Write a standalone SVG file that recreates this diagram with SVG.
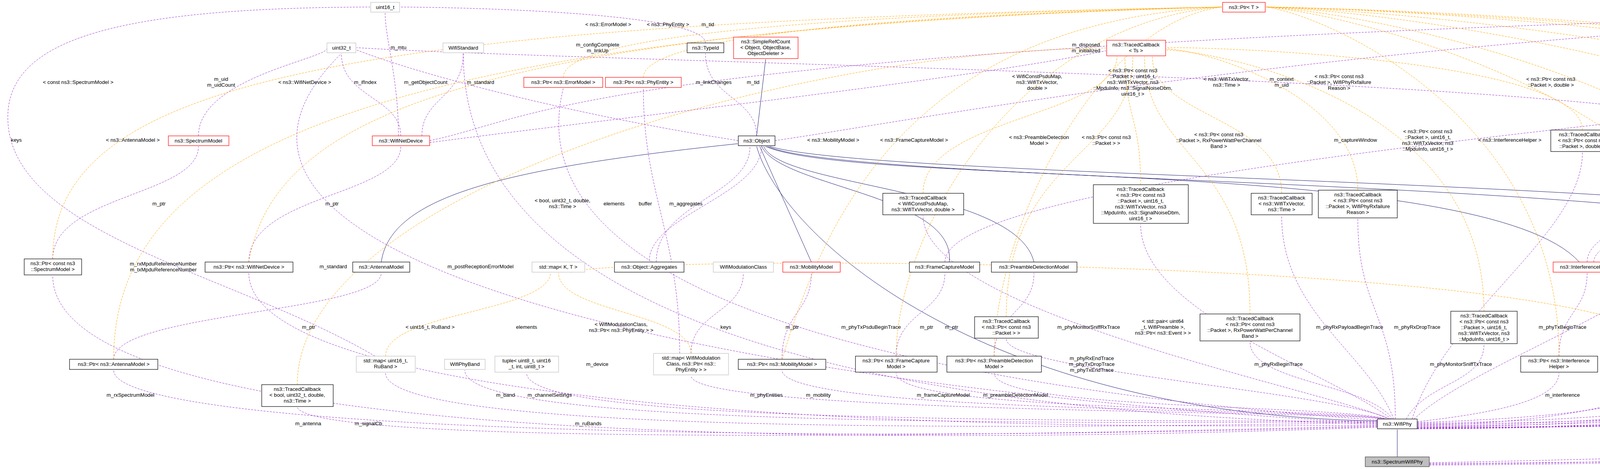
<svg xmlns="http://www.w3.org/2000/svg" width="7448" height="1201" viewBox="0 0 7448 1201">
<style>
rect{fill:#fff;stroke:#000;stroke-width:1.2}
.r rect{stroke:#f00}
.g rect{stroke:#bfbfbf}
.s rect{fill:#bfbfbf;stroke:#404040}
text{font-family:"Liberation Sans",Arial,sans-serif;font-size:13.3px;fill:#000;text-anchor:middle}
path{fill:none}
.p{stroke:#9a32cd;stroke-dasharray:5,3;marker-end:url(#ap)}
.o{stroke:#ffa500;stroke-dasharray:5,3;marker-end:url(#ao)}
.b{stroke:#191970;marker-end:url(#ab)}
</style>
<defs>
<marker id="ap" viewBox="0 0 10 10" refX="10" refY="5" markerWidth="10" markerHeight="10" markerUnits="userSpaceOnUse" orient="auto"><path d="M0,1L10,5L0,9z" fill="#9a32cd"/></marker>
<marker id="ao" viewBox="0 0 10 10" refX="10" refY="5" markerWidth="10" markerHeight="10" markerUnits="userSpaceOnUse" orient="auto"><path d="M0,1L10,5L0,9z" fill="#ffa500"/></marker>
<marker id="ab" viewBox="0 0 10 10" refX="10" refY="5" markerWidth="10" markerHeight="10" markerUnits="userSpaceOnUse" orient="auto"><path d="M0,1L10,5L0,9z" fill="#191970"/></marker>
</defs>
<rect x="0" y="0" width="7448" height="1201" style="stroke:none"/>
<g id="edges">
<path class="b" d="M3577 1170L3577 1100"/>
<path class="b" d="M3526 1078C2500 1060,2000 600,1937 375"/>
<path class="b" d="M1937 348L1960 152"/>
<path class="b" d="M976 671C1000 500,1300 430,1888 368"/>
<path class="b" d="M2077 671L1945 375"/>
<path class="b" d="M2430 671C2450 500,2000 480,1950 375"/>
<path class="b" d="M2647 671C2600 480,2000 480,1955 375"/>
<path class="b" d="M4043 671C3800 400,2200 480,1960 375"/>
<path class="b" d="M4860 671C4700 450,2200 480,1965 375"/>
<path class="b" d="M5300 671C5000 450,2300 470,1970 375"/>
<path class="b" d="M6111 110L6170 33"/>
<path class="b" d="M5913 348C5913 150,6050 100,6160 33"/>
<path class="p" d="M3526 1094C2000 1150,135 1120,135 706"/>
<path class="p" d="M3526 1092C2000 1140,291 1100,291 948"/>
<path class="p" d="M3526 1090C2500 1120,800 1140,761 1043"/>
<path class="p" d="M3526 1088C2000 1110,637 1000,637 699"/>
<path class="p" d="M3526 1086C2500 1060,1186 900,1186 137"/>
<path class="p" d="M3526 1084C2000 1000,300 700,874 137"/>
<path class="p" d="M3526 1082C2000 1110,987 1080,987 955"/>
<path class="p" d="M3526 1080C2000 1090,1190 1060,1190 948"/>
<path class="p" d="M3526 1078C2200 1080,1348 1060,1348 955"/>
<path class="p" d="M3526 1076C2500 1000,1300 800,1442 226"/>
<path class="p" d="M3540 1073C3400 1050,1769 1060,1769 962"/>
<path class="p" d="M3545 1073C3400 1045,2002 1060,2002 948"/>
<path class="p" d="M3550 1073C3400 1040,2294 1060,2294 955"/>
<path class="p" d="M3553 1073C3400 1035,2545 1050,2545 955"/>
<path class="p" d="M3556 1073C3400 1000,2363 800,2363 552"/>
<path class="p" d="M3559 1073C3400 1000,2576 950,2576 868"/>
<path class="p" d="M3562 1073C3400 950,2920 800,2920 574"/>
<path class="p" d="M3565 1073C3500 980,3200 980,3200 875"/>
<path class="p" d="M3568 1073C3500 900,3281 800,3281 552"/>
<path class="p" d="M3572 1073C3572 800,3476 800,3476 560"/>
<path class="p" d="M3600 1073C3650 980,3799 980,3799 882"/>
<path class="p" d="M3628 1080C3800 1060,3991 1030,3991 955"/>
<path class="p" d="M3628 1082C4000 1070,4269 1040,4269 962"/>
<path class="p" d="M3628 1084C4200 1075,4486 1040,4486 955"/>
<path class="p" d="M3628 1086C4400 1080,4750 1040,4750 955"/>
<path class="p" d="M3628 1088C4600 1080,4700 700,4597 137"/>
<path class="p" d="M3615 1073C3700 800,4051 600,4051 390"/>
<path class="p" d="M3620 1073C3800 900,4520 700,4520 375"/>
<path class="p" d="M3628 1090C4800 1080,5075 900,5075 699"/>
<path class="p" d="M3628 1092C5200 1080,5670 900,5670 375"/>
<path class="p" d="M3628 1094C5600 1080,5900 500,6270 137"/>
<path class="p" d="M3628 1095C5300 1085,5571 1000,5571 706"/>
<path class="p" d="M3628 1096C5800 1085,6091 1000,6091 699"/>
<path class="p" d="M3628 1097C6300 1090,6300 300,5520 137"/>
<path class="p" d="M3628 1098C6400 1090,6420 500,5930 375"/>
<path class="p" d="M3628 1098C6700 1090,6700 200,5489 25"/>
<path class="p" d="M3659 1185C5000 1160,6000 1090,6423 1088"/>
<path class="p" d="M3659 1187C6000 1170,6824 1100,6824 699"/>
<path class="p" d="M3659 1189C6500 1170,7050 800,6295 137"/>
<path class="p" d="M3659 1191C7000 1180,7360 600,5489 20"/>
<path class="p" d="M6527 1066C6527 1000,6674 1000,6674 948"/>
<path class="p" d="M6674 920C6674 800,6800 800,6800 699"/>
<path class="p" d="M6824 671C6824 500,6876 500,6876 375"/>
<path class="p" d="M6876 348C6876 250,6300 250,6300 137"/>
<path class="p" d="M6091 671C6091 400,6684 400,6684 234"/>
<path class="p" d="M6315 348C6315 250,6255 250,6255 137"/>
<path class="p" d="M5571 663C5571 500,6300 500,6300 375"/>
<path class="p" d="M5284 671C5284 500,5900 500,5900 375"/>
<path class="p" d="M5300 671C5300 400,6265 400,6265 137"/>
<path class="p" d="M5270 671C5270 400,5506 400,5506 137"/>
<path class="p" d="M5260 671C5260 500,5660 500,5660 375"/>
<path class="p" d="M5240 671C5240 500,4545 500,4545 375"/>
<path class="p" d="M4486 912C4486 800,5284 800,5284 699"/>
<path class="p" d="M4877 671C4877 400,5480 400,5480 137"/>
<path class="p" d="M4890 671C4890 300,5455 300,5455 33"/>
<path class="p" d="M4860 671C4860 500,4110 500,4110 390"/>
<path class="p" d="M4750 912C4750 800,4877 800,4877 699"/>
<path class="p" d="M4063 671C4063 400,6250 400,6250 137"/>
<path class="p" d="M4080 671C4080 500,5650 500,5650 375"/>
<path class="p" d="M3991 912C3991 800,4063 800,4063 699"/>
<path class="p" d="M4269 905C4269 800,4338 800,4338 699"/>
<path class="p" d="M4300 905C4300 800,5040 800,5040 699"/>
<path class="p" d="M5075 671C5075 500,4984 500,4984 375"/>
<path class="p" d="M4984 348C4984 200,5300 130,5461 122"/>
<path class="p" d="M4520 348C4520 250,4437 250,4437 137"/>
<path class="p" d="M4540 348C4540 250,4597 250,4597 137"/>
<path class="p" d="M4500 348C4400 200,1500 160,913 122"/>
<path class="p" d="M5506 110C5506 70,5647 70,5647 33"/>
<path class="p" d="M5490 110C5490 70,5462 70,5462 33"/>
<path class="p" d="M5549 122C6000 100,6300 30,6540 18"/>
<path class="p" d="M1937 348C1937 250,1806 250,1806 137"/>
<path class="p" d="M1806 110C1806 40,1300 20,1025 18"/>
<path class="p" d="M1950 373C1950 500,1662 550,1662 669"/>
<path class="p" d="M1680 671C1680 520,1920 500,1920 375"/>
<path class="p" d="M1984 360C2400 300,3500 80,5435 18"/>
<path class="p" d="M1890 360C1500 300,1100 200,913 128"/>
<path class="p" d="M1769 905C1769 800,1903 800,1903 699"/>
<path class="p" d="M1740 905C1740 600,1647 500,1647 226"/>
<path class="p" d="M2002 920C2002 800,2077 800,2077 699"/>
<path class="p" d="M2294 912C2294 800,2419 800,2419 699"/>
<path class="p" d="M2545 912C2545 800,2647 800,2647 699"/>
<path class="p" d="M2419 671C2419 400,5300 250,5461 128"/>
<path class="p" d="M291 920C291 800,976 800,976 699"/>
<path class="p" d="M637 671C637 500,1026 500,1026 375"/>
<path class="p" d="M135 663C135 500,508 500,508 375"/>
<path class="p" d="M508 348C508 200,837 150,837 124"/>
<path class="p" d="M1026 348C1026 250,874 250,874 137"/>
<path class="p" d="M1020 348C1020 200,986 100,986 33"/>
<path class="p" d="M1080 348C1080 250,1186 250,1186 137"/>
<path class="p" d="M1100 360C1400 300,1500 100,5435 24"/>
<path class="p" d="M1100 365C1600 300,2500 200,2831 130"/>
<path class="p" d="M960 912C600 700,20 600,20 300C20 100,300 20,947 18"/>
<path class="o" d="M135 663C135 200,900 60,3128 18"/>
<path class="o" d="M291 920C291 400,900 80,3128 18"/>
<path class="o" d="M637 671C700 300,1200 70,3128 18"/>
<path class="o" d="M1442 198C1442 100,2000 40,3128 18"/>
<path class="o" d="M1647 198C1647 100,2200 40,3128 18"/>
<path class="o" d="M2002 920C2100 600,2300 60,3128 18"/>
<path class="o" d="M2294 912C2294 600,2600 60,3128 18"/>
<path class="o" d="M2545 912C2545 600,2800 60,3128 18"/>
<path class="o" d="M4437 110C4300 60,3400 18,3241 18"/>
<path class="o" d="M3991 912C3991 300,3400 40,3241 18"/>
<path class="o" d="M4486 912C4486 300,3500 40,3241 18"/>
<path class="o" d="M4750 912C4750 300,3600 40,3241 18"/>
<path class="o" d="M5075 671C5075 300,3800 40,3241 18"/>
<path class="o" d="M5571 663C5571 300,4000 40,3241 18"/>
<path class="o" d="M6824 671C6900 300,4500 40,3241 18"/>
<path class="o" d="M6527 1066C6527 300,4300 40,3241 18"/>
<path class="o" d="M761 985C761 500,2000 130,2831 123"/>
<path class="o" d="M2363 495C2363 300,2850 300,2860 145"/>
<path class="o" d="M2920 473C2920 300,2880 300,2880 145"/>
<path class="o" d="M2576 811C2576 400,2900 400,2900 145"/>
<path class="o" d="M3200 804C3200 400,2930 400,2930 145"/>
<path class="o" d="M3281 495C3281 300,2950 300,2950 145"/>
<path class="o" d="M3476 487C3476 250,3100 130,2986 125"/>
<path class="o" d="M3799 797C3799 250,3100 130,2986 128"/>
<path class="o" d="M4051 333C4051 150,3100 120,2986 122"/>
<path class="o" d="M987 912C987 800,1400 800,1410 699"/>
<path class="o" d="M1769 905C1769 800,1430 800,1430 699"/>
<path class="o" d="M4269 905C4269 650,1500 650,1460 699"/>
<path class="o" d="M5913 348C5913 250,6050 200,6060 137"/>
<path class="o" d="M6684 191C6684 100,6596 80,6596 33"/>
</g>
<g id="labels">
<text x="334" y="1016">m_rxSpectrumModel</text>
<text x="789" y="1089">m_antenna</text>
<text x="943" y="1089">m_signalCb</text>
<text x="1529" y="937">m_device</text>
<text x="853" y="687">m_standard</text>
<text x="418" y="680">m_rxMpduReferenceNumber<tspan x="418" dy="15">m_txMpduReferenceNumber</tspan></text>
<text x="1506" y="1089">m_ruBands</text>
<text x="1294" y="1016">m_band</text>
<text x="1407" y="1016">m_channelSettings</text>
<text x="1230" y="687">m_postReceptionErrorModel</text>
<text x="1962" y="1016">m_phyEntities</text>
<text x="2095" y="1016">m_mobility</text>
<text x="2415" y="1016">m_frameCaptureModel</text>
<text x="2600" y="1016">m_preambleDetectionModel</text>
<text x="2230" y="842">m_phyTxPsduBeginTrace</text>
<text x="2795" y="922">m_phyRxEndTrace<tspan x="2795" dy="15">m_phyTxDropTrace</tspan><tspan x="2795" dy="15">m_phyTxEndTrace</tspan></text>
<text x="2787" y="842">m_phyMonitorSniffRxTrace</text>
<text x="3273" y="937">m_phyRxBeginTrace</text>
<text x="3455" y="842">m_phyRxPayloadBeginTrace</text>
<text x="3628" y="842">m_phyRxDropTrace</text>
<text x="3740" y="937">m_phyMonitorSniffTxTrace</text>
<text x="4000" y="1016">m_interference</text>
<text x="4295" y="1016">m_currentPreambleEvents</text>
<text x="4510" y="1016">m_wifiRadioEnergyModel</text>
<text x="4736" y="1016">m_state</text>
<text x="4650" y="687">m_previouslyRxPpduUid</text>
<text x="4000" y="842">m_phyTxBeginTrace</text>
<text x="4230" y="835">m_endPhyRxEvent<tspan x="4230" dy="15">m_endTxEvent</tspan></text>
<text x="5052" y="937">m_currentEvent</text>
<text x="5450" y="820">m_nTxPower<tspan x="5450" dy="15">m_numberOfAntennas</tspan><tspan x="5450" dy="15">m_rxSpatialStreams</tspan><tspan x="5450" dy="15">m_txSpatialStreams</tspan></text>
<text x="5838" y="601">m_ccaEdThresholdW<tspan x="5838" dy="15">m_ccaSensitivityThreshold</tspan><tspan x="5838" dy="15">W</tspan><tspan x="5838" dy="15">m_noiseFigureDb</tspan><tspan x="5838" dy="15">m_powerDensityLimit</tspan><tspan x="5838" dy="15">m_rxGainDb</tspan><tspan x="5838" dy="15">m_rxSensitivityW</tspan><tspan x="5838" dy="15">m_txGainDb</tspan><tspan x="5838" dy="15">m_txPowerBaseDbm</tspan><tspan x="5838" dy="15">m_txPowerEndDbm</tspan><tspan x="5838" dy="15">m_txPowerMaxMimo</tspan><tspan x="5838" dy="15">...</tspan></text>
<text x="5600" y="937">m_random</text>
<text x="6128" y="937">m_operatingChannel</text>
<text x="6315" y="636">m_ackTxTime<tspan x="6315" dy="15">m_blockAckTxTime</tspan><tspan x="6315" dy="15">m_channelSwitchDelay</tspan><tspan x="6315" dy="15">m_pifs</tspan><tspan x="6315" dy="15">m_sifs</tspan><tspan x="6315" dy="15">m_slot</tspan><tspan x="6315" dy="15">m_timeLastPreamble</tspan><tspan x="6315" dy="15">Detected</tspan></text>
<text x="6401" y="842">m_capabilitiesChangedCallback</text>
<text x="6641" y="504">m_channelAccessRequested<tspan x="6641" dy="15">m_fixedPhyBand</tspan><tspan x="6641" dy="15">m_powerRestricted</tspan><tspan x="6641" dy="15">m_shortPreamble</tspan></text>
<text x="5237" y="1141">m_wifiSpectrumPhyInterface</text>
<text x="6824" y="1016">m_channel</text>
<text x="7050" y="813">m_txMaskInnerBandMinimum<tspan x="7050" dy="15">Rejection</tspan><tspan x="7050" dy="15">m_txMaskOuterBandMaximum</tspan><tspan x="7050" dy="15">Rejection</tspan><tspan x="7050" dy="15">m_txMaskOuterBandMinimumRejection</tspan></text>
<text x="7365" y="687">m_disableWifiReception</text>
<text x="6644" y="1016">m_ptr</text>
<text x="6767" y="842">m_channel</text>
<text x="6880" y="526">m_ptr</text>
<text x="6460" y="215">m_maxLossDb</text>
<text x="6706" y="356">m_channelIt<tspan x="6706" dy="15">m_frequencyChannels</tspan></text>
<text x="6283" y="207">m_max<tspan x="6283" dy="15">m_min</tspan></text>
<text x="6171" y="526">m_ptr</text>
<text x="5874" y="518">m_energyDepletionCallback<tspan x="5874" dy="15">m_energyRechargedCallback</tspan></text>
<text x="6128" y="327">m_ccaBusyCurrentA<tspan x="6128" dy="15">m_idleCurrentA</tspan><tspan x="6128" dy="15">m_rxCurrentA</tspan><tspan x="6128" dy="15">m_sleepCurrentA</tspan><tspan x="6128" dy="15">m_switchingCurrentA</tspan><tspan x="6128" dy="15">m_txCurrentA</tspan></text>
<text x="5359" y="363">m_lastUpdateTime</text>
<text x="5418" y="526">m_nPendingChangeState</text>
<text x="4908" y="526">m_switchToOffEvent</text>
<text x="5178" y="842">m_ptr</text>
<text x="5545" y="284">m_endCcaBusy<tspan x="5545" dy="15">m_endRx</tspan><tspan x="5545" dy="15">m_endSwitching</tspan><tspan x="5545" dy="15">m_endTx</tspan><tspan x="5545" dy="15">m_previousStateChange</tspan><tspan x="5545" dy="15">Time</tspan><tspan x="5545" dy="15">m_startCcaBusy</tspan><tspan x="5545" dy="15">m_startRx</tspan><tspan x="5545" dy="15">m_startSleep</tspan><tspan x="5545" dy="15">m_startSwitching</tspan><tspan x="5545" dy="15">m_startTx</tspan><tspan x="5545" dy="15">...</tspan></text>
<text x="5411" y="207">m_isOff<tspan x="5411" dy="15">m_sleeping</tspan></text>
<text x="4710" y="526">m_rxErrorTrace</text>
<text x="4840" y="842">m_ptr</text>
<text x="5127" y="363">m_noiseFigure</text>
<text x="5010" y="526">m_numRxAntennas</text>
<text x="4124" y="842">m_ptr</text>
<text x="4357" y="842">keys</text>
<text x="5000" y="842">elements</text>
<text x="5167" y="526">m_ptr</text>
<text x="5000" y="207">m_endTime<tspan x="5000" dy="15">m_startTime</tspan></text>
<text x="4480" y="215">m_eventImpl</text>
<text x="4395" y="215">m_rxing</text>
<text x="4575" y="215">m_ts</text>
<text x="3281" y="207">m_context<tspan x="3281" dy="15">m_uid</tspan></text>
<text x="5642" y="67">m_data</text>
<text x="5540" y="67">g_TimeStaticInit</text>
<text x="6240" y="67">g_markingTimes</text>
<text x="1928" y="215">m_tid</text>
<text x="1812" y="67">m_tid</text>
<text x="1756" y="526">m_aggregates</text>
<text x="1652" y="526">buffer</text>
<text x="2780" y="119">m_disposed<tspan x="2780" dy="15">m_initialized</tspan></text>
<text x="1090" y="215">m_getObjectCount</text>
<text x="1858" y="842">keys</text>
<text x="1572" y="526">elements</text>
<text x="1348" y="842">elements</text>
<text x="2028" y="842">m_ptr</text>
<text x="2372" y="842">m_ptr</text>
<text x="2436" y="842">m_ptr</text>
<text x="3470" y="363">m_captureWindow</text>
<text x="790" y="842">m_ptr</text>
<text x="850" y="526">m_ptr</text>
<text x="407" y="526">m_ptr</text>
<text x="566" y="207">m_uid<tspan x="566" dy="15">m_uidCount</tspan></text>
<text x="935" y="215">m_ifIndex</text>
<text x="1020" y="126">m_mtu</text>
<text x="1230" y="215">m_standard</text>
<text x="1530" y="119">m_configComplete<tspan x="1530" dy="15">m_linkUp</tspan></text>
<text x="1827" y="215">m_linkChanges</text>
<text x="42" y="363">keys</text>
<text x="200" y="215">&lt; const ns3::SpectrumModel &gt;</text>
<text x="340" y="363">&lt; ns3::AntennaModel &gt;</text>
<text x="780" y="215">&lt; ns3::WifiNetDevice &gt;</text>
<text x="1557" y="67">&lt; ns3::ErrorModel &gt;</text>
<text x="1710" y="67">&lt; ns3::PhyEntity &gt;</text>
<text x="2133" y="363">&lt; ns3::MobilityModel &gt;</text>
<text x="2340" y="363">&lt; ns3::FrameCaptureModel &gt;</text>
<text x="2660" y="356">&lt; ns3::PreambleDetection<tspan x="2660" dy="15">Model &gt;</tspan></text>
<text x="4332" y="67">&lt; ns3::EventImpl &gt;</text>
<text x="3865" y="363">&lt; ns3::InterferenceHelper &gt;</text>
<text x="4354" y="363">&lt; ns3::WifiRadioEnergyModel &gt;</text>
<text x="4745" y="363">&lt; ns3::WifiPhyStateHelper &gt;</text>
<text x="4897" y="215">&lt; ns3::Event &gt;</text>
<text x="5231" y="215">&lt; ns3::UniformRandomVariable &gt;</text>
<text x="7012" y="215">&lt; ns3::SpectrumChannel &gt;</text>
<text x="6413" y="526">&lt; ns3::WifiSpectrumPhyInterface &gt;</text>
<text x="1440" y="518">&lt; bool, uint32_t, double,<tspan x="1440" dy="15">ns3::Time &gt;</tspan></text>
<text x="2655" y="200">&lt; WifiConstPsduMap,<tspan x="2655" dy="15">ns3::WifiTxVector,</tspan><tspan x="2655" dy="15">double &gt;</tspan></text>
<text x="2900" y="185">&lt; ns3::Ptr&lt; const ns3<tspan x="2900" dy="15">::Packet &gt;, uint16_t,</tspan><tspan x="2900" dy="15">ns3::WifiTxVector, ns3</tspan><tspan x="2900" dy="15">::MpduInfo, ns3::SignalNoiseDbm,</tspan><tspan x="2900" dy="15">uint16_t &gt;</tspan></text>
<text x="2832" y="356">&lt; ns3::Ptr&lt; const ns3<tspan x="2832" dy="15">::Packet &gt; &gt;</tspan></text>
<text x="3120" y="349">&lt; ns3::Ptr&lt; const ns3<tspan x="3120" dy="15">::Packet &gt;, RxPowerWattPerChannel</tspan><tspan x="3120" dy="15">Band &gt;</tspan></text>
<text x="3140" y="207">&lt; ns3::WifiTxVector,<tspan x="3140" dy="15">ns3::Time &gt;</tspan></text>
<text x="3428" y="200">&lt; ns3::Ptr&lt; const ns3<tspan x="3428" dy="15">::Packet &gt;, WifiPhyRxfailure</tspan><tspan x="3428" dy="15">Reason &gt;</tspan></text>
<text x="3655" y="341">&lt; ns3::Ptr&lt; const ns3<tspan x="3655" dy="15">::Packet &gt;, uint16_t,</tspan><tspan x="3655" dy="15">ns3::WifiTxVector, ns3</tspan><tspan x="3655" dy="15">::MpduInfo, uint16_t &gt;</tspan></text>
<text x="3970" y="207">&lt; ns3::Ptr&lt; const ns3<tspan x="3970" dy="15">::Packet &gt;, double &gt;</tspan></text>
<text x="1101" y="842">&lt; uint16_t, RuBand &gt;</text>
<text x="1590" y="835">&lt; WifiModulationClass,<tspan x="1590" dy="15">ns3::Ptr&lt; ns3::PhyEntity &gt; &gt;</tspan></text>
<text x="2977" y="827">&lt; std::pair&lt; uint64<tspan x="2977" dy="15">_t, WifiPreamble &gt;,</tspan><tspan x="2977" dy="15">ns3::Ptr&lt; ns3::Event &gt; &gt;</tspan></text>
<text x="5999" y="215">&lt; void &gt;</text>
<text x="6710" y="67">&lt; FrequencyChannelInfo &gt;</text>
</g>
<g id="n1" class="g"><rect x="949" y="6" width="74" height="25"/><text x="986" y="23">uint16_t</text></g>
<g id="n2" class="g"><rect x="837" y="110" width="74" height="25"/><text x="874" y="127">uint32_t</text></g>
<g id="n3" class="g"><rect x="1134" y="110" width="104" height="25"/><text x="1186" y="127">WifiStandard</text></g>
<g id="n4" class="r"><rect x="431" y="348" width="155" height="25"/><text x="508" y="365">ns3::SpectrumModel</text></g>
<g id="n5" class="r"><rect x="953" y="348" width="147" height="25"/><text x="1026" y="365">ns3::WifiNetDevice</text></g>
<g id="n6"><rect x="62" y="663" width="147" height="41"/><text x="135" y="679">ns3::Ptr&lt; const ns3<tspan x="135" dy="15">::SpectrumModel &gt;</tspan></text></g>
<g id="n7"><rect x="525" y="671" width="225" height="26"/><text x="637" y="688">ns3::Ptr&lt; ns3::WifiNetDevice &gt;</text></g>
<g id="n8"><rect x="903" y="671" width="146" height="26"/><text x="976" y="688">ns3::AntennaModel</text></g>
<g id="n9"><rect x="178" y="920" width="226" height="26"/><text x="291" y="937">ns3::Ptr&lt; ns3::AntennaModel &gt;</text></g>
<g id="n10" class="g"><rect x="912" y="912" width="151" height="41"/><text x="987" y="928">std::map&lt; uint16_t,<tspan x="987" dy="15">RuBand &gt;</tspan></text></g>
<g id="n11" class="g"><rect x="1138" y="920" width="104" height="26"/><text x="1190" y="937">WifiPhyBand</text></g>
<g id="n12"><rect x="670" y="985" width="183" height="56"/><text x="761" y="1001">ns3::TracedCallback<tspan x="761" dy="15">&lt; bool, uint32_t, double,</tspan><tspan x="761" dy="15">ns3::Time &gt;</tspan></text></g>
<g id="n13" class="r"><rect x="1341" y="198" width="202" height="26"/><text x="1442" y="215">ns3::Ptr&lt; ns3::ErrorModel &gt;</text></g>
<g id="n14" class="r"><rect x="1550" y="198" width="194" height="26"/><text x="1647" y="215">ns3::Ptr&lt; ns3::PhyEntity &gt;</text></g>
<g id="n15"><rect x="1759" y="110" width="94" height="25"/><text x="1806" y="127">ns3::TypeId</text></g>
<g id="n16" class="r"><rect x="1878" y="95" width="165" height="55"/><text x="1960" y="111">ns3::SimpleRefCount<tspan x="1960" dy="15">&lt; Object, ObjectBase,</tspan><tspan x="1960" dy="15">ObjectDeleter &gt;</tspan></text></g>
<g id="n17"><rect x="1890" y="348" width="94" height="25"/><text x="1937" y="365">ns3::Object</text></g>
<g id="n18"><rect x="2260" y="495" width="207" height="55"/><text x="2363" y="511">ns3::TracedCallback<tspan x="2363" dy="15">&lt; WifiConstPsduMap,</tspan><tspan x="2363" dy="15">ns3::WifiTxVector, double &gt;</tspan></text></g>
<g id="n19" class="g"><rect x="1362" y="671" width="135" height="26"/><text x="1429" y="688">std::map&lt; K, T &gt;</text></g>
<g id="n20"><rect x="1573" y="671" width="178" height="26"/><text x="1662" y="688">ns3::Object::Aggregates</text></g>
<g id="n21" class="g"><rect x="1826" y="671" width="154" height="26"/><text x="1903" y="688">WifiModulationClass</text></g>
<g id="n22" class="r"><rect x="2004" y="671" width="147" height="26"/><text x="2077" y="688">ns3::MobilityModel</text></g>
<g id="n23"><rect x="2328" y="671" width="180" height="26"/><text x="2418" y="688">ns3::FrameCaptureModel</text></g>
<g id="n24" class="g"><rect x="1267" y="912" width="163" height="41"/><text x="1348" y="928">tuple&lt; uint8_t, uint16<tspan x="1348" dy="15">_t, int, uint8_t &gt;</tspan></text></g>
<g id="n25" class="g"><rect x="1673" y="905" width="192" height="55"/><text x="1769" y="921">std::map&lt; WifiModulation<tspan x="1769" dy="15">Class, ns3::Ptr&lt; ns3::</tspan><tspan x="1769" dy="15">PhyEntity &gt; &gt;</tspan></text></g>
<g id="n26"><rect x="1890" y="920" width="224" height="26"/><text x="2002" y="937">ns3::Ptr&lt; ns3::MobilityModel &gt;</text></g>
<g id="n27"><rect x="2190" y="912" width="209" height="41"/><text x="2294" y="928">ns3::Ptr&lt; ns3::FrameCapture<tspan x="2294" dy="15">Model &gt;</tspan></text></g>
<g id="n28"><rect x="2424" y="912" width="242" height="41"/><text x="2545" y="928">ns3::Ptr&lt; ns3::PreambleDetection<tspan x="2545" dy="15">Model &gt;</tspan></text></g>
<g id="n29" class="r"><rect x="3130" y="6" width="109" height="25"/><text x="3184" y="23">ns3::Ptr&lt; T &gt;</text></g>
<g id="n30" class="r"><rect x="2833" y="103" width="151" height="40"/><text x="2908" y="119">ns3::TracedCallback<tspan x="2908" dy="15">&lt; Ts &gt;</tspan></text></g>
<g id="n31"><rect x="2799" y="473" width="243" height="99"/><text x="2920" y="489">ns3::TracedCallback<tspan x="2920" dy="15">&lt; ns3::Ptr&lt; const ns3</tspan><tspan x="2920" dy="15">::Packet &gt;, uint16_t,</tspan><tspan x="2920" dy="15">ns3::WifiTxVector, ns3</tspan><tspan x="2920" dy="15">::MpduInfo, ns3::SignalNoiseDbm,</tspan><tspan x="2920" dy="15">uint16_t &gt;</tspan></text></g>
<g id="n32"><rect x="3203" y="495" width="156" height="55"/><text x="3281" y="511">ns3::TracedCallback<tspan x="3281" dy="15">&lt; ns3::WifiTxVector,</tspan><tspan x="3281" dy="15">ns3::Time &gt;</tspan></text></g>
<g id="n33"><rect x="3375" y="487" width="202" height="71"/><text x="3476" y="503">ns3::TracedCallback<tspan x="3476" dy="15">&lt; ns3::Ptr&lt; const ns3</tspan><tspan x="3476" dy="15">::Packet &gt;, WifiPhyRxfailure</tspan><tspan x="3476" dy="15">Reason &gt;</tspan></text></g>
<g id="n34"><rect x="2538" y="671" width="219" height="26"/><text x="2647" y="688">ns3::PreambleDetectionModel</text></g>
<g id="n35"><rect x="2495" y="811" width="163" height="55"/><text x="2576" y="827">ns3::TracedCallback<tspan x="2576" dy="15">&lt; ns3::Ptr&lt; const ns3</tspan><tspan x="2576" dy="15">::Packet &gt; &gt;</tspan></text></g>
<g id="n36"><rect x="3072" y="804" width="256" height="69"/><text x="3200" y="820">ns3::TracedCallback<tspan x="3200" dy="15">&lt; ns3::Ptr&lt; const ns3</tspan><tspan x="3200" dy="15">::Packet &gt;, RxPowerWattPerChannel</tspan><tspan x="3200" dy="15">Band &gt;</tspan></text></g>
<g id="n37"><rect x="3526" y="1073" width="102" height="25"/><text x="3577" y="1090">ns3::WifiPhy</text></g>
<g id="n38" class="s"><rect x="3495" y="1170" width="164" height="25"/><text x="3577" y="1187">ns3::SpectrumWifiPhy</text></g>
<g id="n39"><rect x="3714" y="797" width="170" height="83"/><text x="3799" y="813">ns3::TracedCallback<tspan x="3799" dy="15">&lt; ns3::Ptr&lt; const ns3</tspan><tspan x="3799" dy="15">::Packet &gt;, uint16_t,</tspan><tspan x="3799" dy="15">ns3::WifiTxVector, ns3</tspan><tspan x="3799" dy="15">::MpduInfo, uint16_t &gt;</tspan></text></g>
<g id="n40" class="r"><rect x="4338" y="110" width="198" height="25"/><text x="4437" y="127">ns3::Ptr&lt; ns3::EventImpl &gt;</text></g>
<g id="n41" class="g"><rect x="4560" y="110" width="74" height="25"/><text x="4597" y="127">uint64_t</text></g>
<g id="n42"><rect x="3970" y="333" width="163" height="55"/><text x="4051" y="349">ns3::TracedCallback<tspan x="4051" dy="15">&lt; ns3::Ptr&lt; const ns3</tspan><tspan x="4051" dy="15">::Packet &gt;, double &gt;</tspan></text></g>
<g id="n43"><rect x="4469" y="348" width="102" height="25"/><text x="4520" y="365">ns3::EventId</text></g>
<g id="n44" class="r"><rect x="4938" y="348" width="92" height="25"/><text x="4984" y="365">ns3::Event</text></g>
<g id="n45" class="r"><rect x="3976" y="671" width="174" height="26"/><text x="4063" y="688">ns3::InterferenceHelper</text></g>
<g id="n46" class="g"><rect x="4226" y="671" width="225" height="26"/><text x="4338" y="688">pair&lt; uint64_t, WifiPreamble &gt;</text></g>
<g id="n47" class="r"><rect x="4787" y="671" width="180" height="26"/><text x="4877" y="688">ns3::WifiPhyStateHelper</text></g>
<g id="n48"><rect x="4991" y="671" width="169" height="26"/><text x="5075" y="688">ns3::Ptr&lt; ns3::Event &gt;</text></g>
<g id="n49"><rect x="3893" y="912" width="197" height="41"/><text x="3991" y="928">ns3::Ptr&lt; ns3::Interference<tspan x="3991" dy="15">Helper &gt;</tspan></text></g>
<g id="n50" class="g"><rect x="4166" y="905" width="206" height="55"/><text x="4269" y="921">std::map&lt; std::pair<tspan x="4269" dy="15">&lt; uint64_t, WifiPreamble</tspan><tspan x="4269" dy="15">&gt;, ns3::Ptr&lt; ns3::Event &gt; &gt;</tspan></text></g>
<g id="n51"><rect x="4397" y="912" width="178" height="41"/><text x="4486" y="928">ns3::Ptr&lt; ns3::WifiRadio<tspan x="4486" dy="15">EnergyModel &gt;</tspan></text></g>
<g id="n52"><rect x="4650" y="912" width="200" height="41"/><text x="4750" y="928">ns3::Ptr&lt; ns3::WifiPhyState<tspan x="4750" dy="15">Helper &gt;</tspan></text></g>
<g id="n53" class="g"><rect x="5437" y="6" width="50" height="25"/><text x="5462" y="23">bool</text></g>
<g id="n54" class="g"><rect x="5614" y="6" width="67" height="25"/><text x="5647" y="23">int64_t</text></g>
<g id="n55" class="r"><rect x="6112" y="6" width="141" height="25"/><text x="6182" y="23">ns3::CallbackBase</text></g>
<g id="n56"><rect x="5463" y="110" width="86" height="25"/><text x="5506" y="127">ns3::Time</text></g>
<g id="n57"><rect x="6002" y="110" width="195" height="25"/><text x="6099" y="127">ns3::Callback&lt; R, UArgs &gt;</text></g>
<g id="n58" class="g"><rect x="6242" y="110" width="66" height="25"/><text x="6275" y="127">double</text></g>
<g id="n59" class="g"><rect x="5637" y="348" width="66" height="25"/><text x="5670" y="365">uint8_t</text></g>
<g id="n60"><rect x="5830" y="348" width="166" height="25"/><text x="5913" y="365">ns3::Callback&lt; void &gt;</text></g>
<g id="n61" class="r"><rect x="6209" y="348" width="212" height="25"/><text x="6315" y="365">ns3::UniformRandomVariable</text></g>
<g id="n62" class="r"><rect x="5184" y="671" width="201" height="26"/><text x="5284" y="688">ns3::WifiRadioEnergyModel</text></g>
<g id="n63"><rect x="5460" y="663" width="223" height="41"/><text x="5571" y="679">ns3::Ptr&lt; ns3::UniformRandom<tspan x="5571" dy="15">Variable &gt;</tspan></text></g>
<g id="n64"><rect x="5982" y="671" width="219" height="26"/><text x="6091" y="688">ns3::WifiPhyOperatingChannel</text></g>
<g id="n65" class="g"><rect x="6542" y="6" width="109" height="25"/><text x="6596" y="23">std::set&lt; K &gt;</text></g>
<g id="n66" class="g"><rect x="6581" y="191" width="206" height="41"/><text x="6684" y="207">std::set&lt; FrequencyChannel<tspan x="6684" dy="15">Info &gt;</tspan></text></g>
<g id="n67" class="r"><rect x="6792" y="348" width="168" height="25"/><text x="6876" y="365">ns3::SpectrumChannel</text></g>
<g id="n68"><rect x="6700" y="671" width="247" height="26"/><text x="6823" y="688">ns3::Ptr&lt; ns3::SpectrumChannel &gt;</text></g>
<g id="n69" class="r"><rect x="6563" y="920" width="222" height="26"/><text x="6674" y="937">ns3::WifiSpectrumPhyInterface</text></g>
<g id="n70"><rect x="6425" y="1066" width="203" height="40"/><text x="6527" y="1082">ns3::Ptr&lt; ns3::WifiSpectrum<tspan x="6527" dy="15">PhyInterface &gt;</tspan></text></g>
</svg>
